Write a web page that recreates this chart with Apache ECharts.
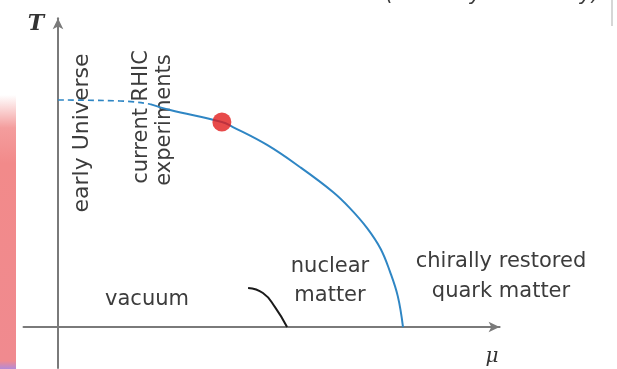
<!DOCTYPE html>
<html><head><meta charset="utf-8">
<script src="https://cdn.jsdelivr.net/npm/echarts@6/dist/echarts.min.js"></script>
<style>html,body{margin:0;padding:0;background:#fff}#c{width:617px;height:369px}</style>
</head><body><div id="c"></div>
<script>
// Phase boundary (mu, T) in units of mu_c and T at mu=0
var dashedMu = [0, 0.18, 0.267];
var dashedT  = [1.0, 0.996, 0.982];
var boundaryMu = [0.267, 0.325, 0.475, 0.507, 0.606, 0.701, 0.797, 0.846, 0.896, 0.935, 0.962, 0.985, 1.0];
var boundaryT  = [0.982, 0.956, 0.903, 0.881, 0.802, 0.705, 0.595, 0.524, 0.436, 0.345, 0.245, 0.135, 0.0];
var pointMu = [0.475];
var pointT  = [0.903];
var nuclearMu = [0.551, 0.594, 0.629, 0.664];
var nuclearT  = [0.172, 0.150, 0.088, 0.0];

function zip(a, b) { return a.map(function (v, i) { return [v, b[i]]; }); }

var chart = echarts.init(document.getElementById('c'), null, {renderer: 'canvas'});
var F = '"DejaVu Sans", sans-serif';
var TXT = '#3c3c3c';
var AX = '#7a7a7a';
var BLUE = '#2f86c4';

chart.setOption({
  animation: false,
  backgroundColor: '#fff',
  grid: {left: 23.5, right: 117.4, top: 18.3, bottom: 1.1, containLabel: false},
  xAxis: {
    type: 'value', min: -0.1, max: 1.28,
    axisLine: {show: true, onZero: true, symbol: ['none', 'arrow'], symbolSize: [8, 11], lineStyle: {color: AX, width: 2}},
    axisTick: {show: false}, axisLabel: {show: false}, splitLine: {show: false}
  },
  yAxis: {
    type: 'value', min: -0.18, max: 1.36,
    axisLine: {show: true, onZero: true, symbol: ['none', 'arrow'], symbolSize: [8, 11], lineStyle: {color: AX, width: 2}},
    axisTick: {show: false}, axisLabel: {show: false}, splitLine: {show: false}
  },
  series: [
    {type: 'line', data: zip(dashedMu, dashedT), symbol: 'none', smooth: true,
     lineStyle: {color: BLUE, width: 1.6, type: [6, 4]}},
    {type: 'line', data: zip(boundaryMu, boundaryT), symbol: 'none', smooth: 0.4,
     lineStyle: {color: BLUE, width: 2}},
    {type: 'line', data: zip(nuclearMu, nuclearT), symbol: 'none', smooth: 0.5,
     lineStyle: {color: '#1a1a1a', width: 2}},
    {type: 'scatter', data: zip(pointMu, pointT), symbolSize: 19,
     itemStyle: {color: '#e11d1d'}, z: 5}
  ],
  graphic: [
    {type: 'rect', shape: {x: 0, y: 95, width: 16, height: 274}, z: -1,
     style: {fill: new echarts.graphic.LinearGradient(0, 0, 0, 1, [
       {offset: 0, color: 'rgba(242,140,140,0)'},
       {offset: 0.12, color: 'rgba(242,140,140,0.85)'},
       {offset: 0.25, color: '#f28a8a'},
       {offset: 0.97, color: '#f08a8f'},
       {offset: 1, color: '#b48ad8'}])}},
    {type: 'rect', shape: {x: 611, y: 0, width: 2, height: 26}, style: {fill: '#d6d6d6'}},
    {type: 'text', x: 600, y: 5, style: {text: '(net baryon density)', font: 'italic 21px ' + F, fill: TXT, align: 'right', verticalAlign: 'bottom'}},
    {type: 'text', x: 36, y: 24, style: {text: 'T', font: 'italic bold 22px "DejaVu Serif", serif', fill: '#333', align: 'center', verticalAlign: 'middle'}},
    {type: 'text', x: 492, y: 357, style: {text: 'μ', font: 'italic 20px "DejaVu Serif", serif', fill: '#333', align: 'center', verticalAlign: 'middle'}},
    {type: 'text', x: 82, y: 133, rotation: Math.PI / 2, style: {text: 'early Universe', font: '22px ' + F, fill: TXT, align: 'center', verticalAlign: 'middle'}},
    {type: 'text', x: 142, y: 117, rotation: Math.PI / 2, style: {text: 'current RHIC', font: '21px ' + F, fill: TXT, align: 'center', verticalAlign: 'middle'}},
    {type: 'text', x: 165, y: 120, rotation: Math.PI / 2, style: {text: 'experiments', font: '21px ' + F, fill: TXT, align: 'center', verticalAlign: 'middle'}},
    {type: 'text', x: 147, y: 300, style: {text: 'vacuum', font: '21px ' + F, fill: TXT, align: 'center', verticalAlign: 'middle'}},
    {type: 'text', x: 330, y: 281, style: {text: 'nuclear\nmatter', font: '21px ' + F, lineHeight: 29, fill: TXT, align: 'center', verticalAlign: 'middle'}},
    {type: 'text', x: 501, y: 277, style: {text: 'chirally restored\nquark matter', font: '21px ' + F, lineHeight: 30, fill: TXT, align: 'center', verticalAlign: 'middle'}}
  ]
});
</script></body></html>
